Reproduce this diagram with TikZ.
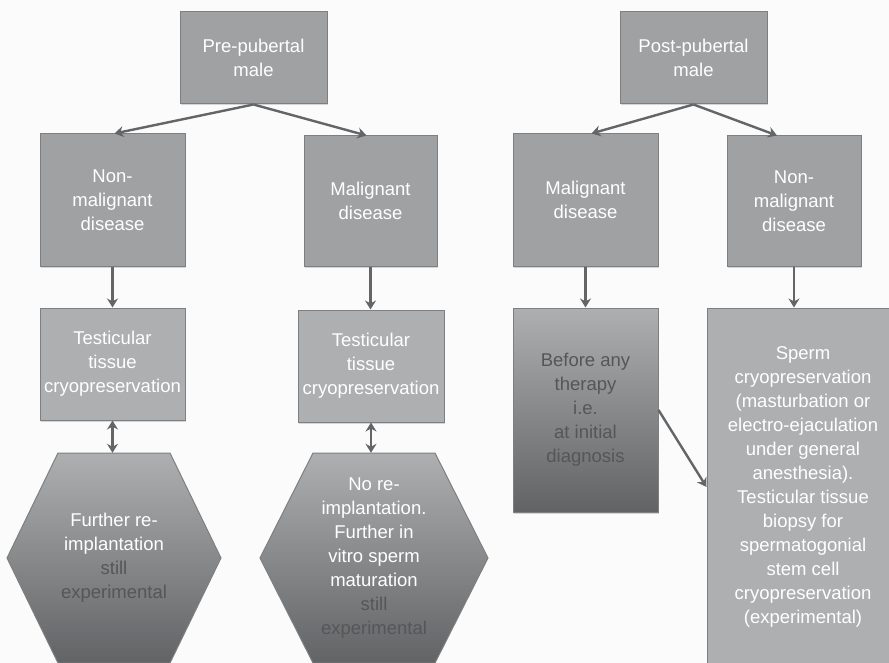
\documentclass[tikz,border=0pt]{standalone}
\usepackage{fontspec}
\setmainfont{Liberation Sans}
\usetikzlibrary{arrows.meta,shadows,calc}
\definecolor{paper}{HTML}{FBFBFB}
\definecolor{boxgray}{HTML}{A0A1A3}
\definecolor{lightgray}{HTML}{AEAFB1}
\definecolor{edgegray}{HTML}{7E7F81}
\definecolor{shadetop}{HTML}{AEAFB1}
\definecolor{shadebot}{HTML}{626365}
\definecolor{arrowgray}{HTML}{646567}
\definecolor{darktext}{HTML}{555658}
\begin{document}
\begin{tikzpicture}[x=1pt,y=-1pt,
    every node/.style={font=\fontsize{18.5}{24}\selectfont,align=center,inner sep=0pt},
    plainbox/.style={draw=edgegray,line width=1pt,fill=boxgray,text=white,
        drop shadow={shadow xshift=1pt,shadow yshift=-1.5pt,opacity=0.3}},
    lightbox/.style={plainbox,fill=lightgray},
    fadebox/.style={plainbox,top color=shadetop,bottom color=shadebot,text=darktext},
    hexfill/.style={draw=edgegray,line width=1pt,top color=shadetop,bottom color=shadebot},
    link/.style={draw=arrowgray,line width=2.4pt,-{Stealth[length=9pt,width=11pt]}},
    twolink/.style={link,{Stealth[length=9pt,width=11pt]}-{Stealth[length=9pt,width=11pt]}}]
    \useasboundingbox[fill=paper] (0,0) rectangle (889,663);
    % pre-pubertal branch
    \node[plainbox,minimum width=147,minimum height=92] (pre) at (253.5,58) {Pre-pubertal\\male};
    \node[plainbox,minimum width=145,minimum height=132] (nmL) at (112.5,200) {Non-\\malignant\\disease};
    \node[plainbox,minimum width=133,minimum height=130] (mL) at (370.5,201) {Malignant\\disease};
    \node[lightbox,minimum width=145,minimum height=112] (tcL) at (112.5,364) {Testicular\\tissue\\cryopreservation};
    \node[lightbox,minimum width=146,minimum height=112] (tcR) at (371,366) {Testicular\\tissue\\cryopreservation};
    \coordinate (hexLc) at (114,558);
    \coordinate (hexRc) at (374,558);
    \draw[hexfill] ($(hexLc)+(-56,-105)$) -- ($(hexLc)+(56,-105)$) -- ($(hexLc)+(107,0)$)
        -- ($(hexLc)+(56,105)$) -- ($(hexLc)+(-56,105)$) -- ($(hexLc)+(-107,0)$) -- cycle;
    \draw[hexfill] ($(hexRc)+(-61,-105)$) -- ($(hexRc)+(61,-105)$) -- ($(hexRc)+(114,0)$)
        -- ($(hexRc)+(61,105)$) -- ($(hexRc)+(-61,105)$) -- ($(hexRc)+(-114,0)$) -- cycle;
    \node[text=white,minimum width=214,minimum height=210] (hexL) at (hexLc)
        {Further re-\\implantation\\\textcolor{darktext}{still}\\\textcolor{darktext}{experimental}};
    \node[text=white,minimum width=228,minimum height=210] (hexR) at (hexRc)
        {No re-\\implantation.\\Further in\\vitro sperm\\maturation\\\textcolor{darktext}{still}\\\textcolor{darktext}{experimental}};
    % post-pubertal branch
    \node[plainbox,minimum width=147,minimum height=92] (post) at (693.5,58) {Post-pubertal\\male};
    \node[plainbox,minimum width=145,minimum height=132] (mR) at (585.5,200) {Malignant\\disease};
    \node[plainbox,minimum width=134,minimum height=130] (nmR) at (794,201) {Non-\\malignant\\disease};
    \node[fadebox,minimum width=145,minimum height=204] (before) at (585.5,410)
        {Before any\\therapy\\i.e.\\at initial\\diagnosis};
    \node[lightbox,minimum width=192,minimum height=358] (sperm) at (803,487)
        {Sperm\\cryopreservation\\(masturbation or\\electro-ejaculation\\under general\\anesthesia).\\Testicular tissue\\biopsy for\\spermatogonial\\stem cell\\cryopreservation\\(experimental)};
    % connectors
    \draw[link] (pre.south) -- ($(nmL.north)+(2,0)$);
    \draw[link] (pre.south) -- ($(mL.north)+(-4,0)$);
    \draw[link] (nmL.south) -- (tcL.north);
    \draw[link] (mL.south) -- (mL.south |- tcR.north);
    \draw[twolink] (tcL.south) -- (tcL.south |- hexL.north);
    \draw[twolink] (tcR.south) -- (tcR.south |- hexR.north);
    \draw[link] (post.south) -- ($(mR.north)+(6,0)$);
    \draw[link] (post.south) -- ($(nmR.north)+(-17,0)$);
    \draw[link] (mR.south) -- (before.north);
    \draw[link] (nmR.south) -- (nmR.south |- sperm.north);
    \draw[link] (before.east) -- (sperm.west);
\end{tikzpicture}
\end{document}
